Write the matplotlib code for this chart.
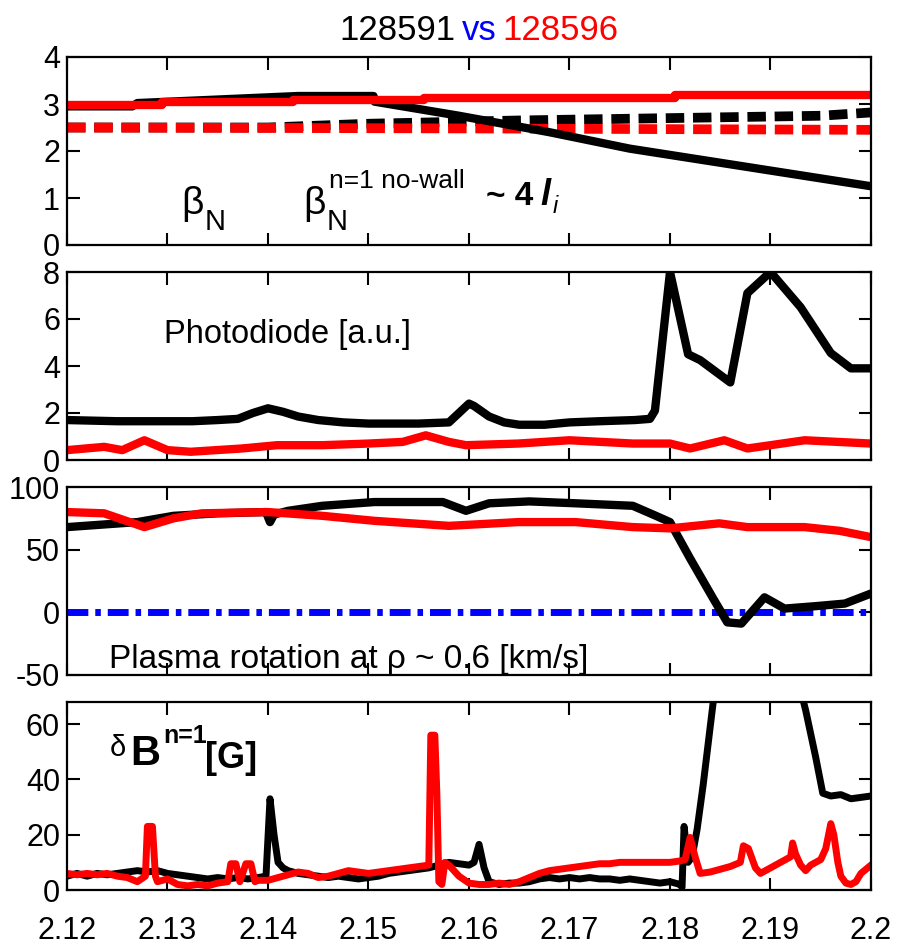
import matplotlib
matplotlib.use("Agg")
import matplotlib.pyplot as plt

# ---------------- data ----------------
# Panel 1: beta_N (solid) and n=1 no-wall limit ~4 li (dashed)
t_bn_591 = [2.12, 2.1265, 2.127, 2.143, 2.1505, 2.1506, 2.159, 2.168, 2.176, 2.188, 2.2]
bn_591 = [2.95, 2.95, 3.02, 3.17, 3.17, 3.05, 2.75, 2.40, 2.05, 1.65, 1.25]
t_bn_596 = [2.12, 2.1295, 2.1295, 2.1425, 2.1425, 2.1555, 2.1555, 2.1805, 2.1805, 2.2]
bn_596 = [2.98, 2.98, 3.04, 3.04, 3.08, 3.08, 3.13, 3.13, 3.2, 3.2]
t_li_591 = [2.12, 2.14, 2.15, 2.165, 2.18, 2.195, 2.2]
li_591 = [2.5, 2.5, 2.58, 2.65, 2.7, 2.75, 2.82]
t_li_596 = [2.12, 2.16, 2.2]
li_596 = [2.5, 2.48, 2.45]

# Panel 2: photodiode [a.u.]
t_pd_591 = [2.12, 2.125, 2.1325, 2.135, 2.137, 2.1385, 2.14, 2.1415, 2.143, 2.145,
            2.1475, 2.15, 2.155, 2.158, 2.1595, 2.16, 2.1605, 2.162, 2.1635, 2.165,
            2.1675, 2.17, 2.173, 2.1765, 2.178, 2.1785, 2.18, 2.1818, 2.183, 2.186,
            2.1877, 2.19, 2.193, 2.196, 2.198, 2.2]
pd_591 = [1.7, 1.65, 1.65, 1.7, 1.75, 2.0, 2.2, 2.05, 1.85, 1.7,
          1.6, 1.55, 1.55, 1.6, 2.2, 2.4, 2.3, 1.85, 1.6, 1.5,
          1.5, 1.6, 1.65, 1.7, 1.75, 2.1, 8.0, 4.5, 4.25, 3.3,
          7.1, 8.0, 6.5, 4.55, 3.9, 3.9]
t_pd_596 = [2.12, 2.1237, 2.1255, 2.1277, 2.13, 2.1323, 2.1374, 2.1409, 2.1454, 2.15,
            2.1534, 2.1557, 2.158, 2.1597, 2.1649, 2.17, 2.1763, 2.18, 2.182, 2.1854,
            2.1877, 2.19, 2.1934, 2.2]
pd_596 = [0.42, 0.56, 0.42, 0.84, 0.42, 0.35, 0.49, 0.63, 0.63, 0.7,
          0.77, 1.05, 0.77, 0.63, 0.7, 0.84, 0.7, 0.7, 0.49, 0.84,
          0.49, 0.63, 0.84, 0.7]

# Panel 3: plasma rotation at rho~0.6 [km/s]
t_rot_591 = [2.12, 2.127, 2.1306, 2.135, 2.1398, 2.1402, 2.1406, 2.142, 2.1454, 2.1506,
             2.1574, 2.1597, 2.162, 2.166, 2.1706, 2.1763, 2.1786, 2.18, 2.182, 2.1843,
             2.1857, 2.1871, 2.1894, 2.1914, 2.1946, 2.1974, 2.2]
rot_591 = [68, 72, 77, 79, 80, 72, 78, 81, 85, 88,
           88, 81, 87, 88.5, 87, 85, 77, 72, 43, 11,
           -8, -9, 12, 3, 5, 7, 15]
t_rot_596 = [2.12, 2.1237, 2.1277, 2.1306, 2.1334, 2.14, 2.1454, 2.1506, 2.158, 2.1649,
             2.1706, 2.1763, 2.18, 2.1849, 2.1877, 2.1934, 2.1969, 2.2]
rot_596 = [80, 79, 68, 75, 79, 80, 77, 73, 69, 72,
           72, 68, 67, 71, 68, 68, 65, 60]
t_zero = [2.12, 2.2]
rot_zero = [0, 0]

# Panel 4: delta B n=1 [G]
t_db_591 = [2.12, 2.121, 2.122, 2.123, 2.124, 2.125, 2.126, 2.127, 2.128, 2.129,
            2.130, 2.131, 2.132, 2.133, 2.134, 2.135, 2.136, 2.137, 2.138, 2.139,
            2.1398, 2.1402, 2.1406, 2.141, 2.1415, 2.142, 2.143, 2.144, 2.145, 2.146,
            2.147, 2.148, 2.149, 2.150, 2.151, 2.152, 2.153, 2.154, 2.155, 2.156,
            2.157, 2.158, 2.159, 2.160, 2.1605, 2.161, 2.1615, 2.162, 2.163, 2.164,
            2.165, 2.166, 2.167, 2.168, 2.169, 2.170, 2.171, 2.172, 2.173, 2.174,
            2.175, 2.176, 2.177, 2.178, 2.179, 2.180, 2.181, 2.1812, 2.1814, 2.1818,
            2.1822, 2.1827, 2.1833, 2.1837, 2.1843, 2.185, 2.19, 2.1928, 2.1935, 2.1945,
            2.1952, 2.196, 2.197, 2.198, 2.199, 2.2]
db_591 = [5, 6, 5, 6, 5.5, 6, 6.5, 7, 6.5, 7,
          6, 5.5, 5, 4.5, 4, 4.5, 4, 4.5, 4, 4.5,
          5, 33, 20, 10, 8, 7, 6, 5.5, 5, 4.5,
          5, 4.5, 4, 4.5, 5, 6, 6.5, 7, 7.5, 8,
          9, 10, 9.5, 9, 10, 16.5, 8, 3, 2, 2.5,
          2.5, 3, 4, 4.5, 4, 4.5, 4, 4.5, 4, 4,
          3.5, 4, 3.5, 3, 2.5, 3, 2, 1, 23, 10,
          12, 22, 38, 50, 68, 75, 80, 75, 65, 48,
          35, 34, 34.5, 33, 33.5, 34]
t_db_596 = [2.12, 2.121, 2.122, 2.123, 2.124, 2.125, 2.126, 2.127, 2.1278, 2.128,
            2.1285, 2.1288, 2.129, 2.13, 2.131, 2.132, 2.133, 2.134, 2.135, 2.136,
            2.1363, 2.1368, 2.1372, 2.1378, 2.1383, 2.1387, 2.139, 2.14, 2.141, 2.142,
            2.143, 2.144, 2.145, 2.146, 2.147, 2.148, 2.149, 2.15, 2.151, 2.152,
            2.153, 2.154, 2.155, 2.156, 2.1562, 2.1566, 2.1568, 2.157, 2.1573, 2.1576,
            2.158, 2.159, 2.16, 2.161, 2.162, 2.163, 2.164, 2.165, 2.166, 2.167,
            2.168, 2.169, 2.17, 2.171, 2.172, 2.173, 2.174, 2.175, 2.176, 2.177,
            2.178, 2.179, 2.18, 2.181, 2.1815, 2.182, 2.1825, 2.183, 2.184, 2.185,
            2.186, 2.187, 2.1873, 2.1878, 2.1885, 2.189, 2.19, 2.191, 2.192, 2.1922,
            2.1925, 2.193, 2.1935, 2.194, 2.195, 2.1955, 2.196, 2.1963, 2.1967, 2.197,
            2.1975, 2.198, 2.1985, 2.199, 2.2]
db_596 = [6, 5.5, 6, 5.5, 6, 5, 4.5, 3, 5, 23,
          23, 5, 3, 4, 2, 1.5, 2, 1.5, 2.5, 3,
          9.5, 9.5, 3, 9.5, 9.5, 3, 3.5, 3.5, 4.5, 5.5,
          6.5, 6, 4.5, 5, 6, 7, 6.5, 6, 6.5, 7,
          7.5, 8, 8.5, 9, 56, 56, 35, 3, 2, 10,
          9, 5, 2.5, 2, 2, 2.5, 2, 3, 4.5, 6,
          7, 7.5, 8, 8.5, 9, 9.5, 9.5, 10, 10, 10,
          10, 10, 10, 10.5, 11, 19, 12, 6, 6.5, 7.5,
          8.5, 10, 16, 15, 8, 6, 8, 10, 12, 17,
          13, 9, 7, 9, 11, 15, 24, 20, 10, 5,
          2.5, 2, 3, 6, 9]

x_ticks = [2.12, 2.13, 2.14, 2.15, 2.16, 2.17, 2.18, 2.19, 2.2]
x_ticklabels = ["2.12", "2.13", "2.14", "2.15", "2.16", "2.17", "2.18", "2.19", "2.2"]

# ---------------- style ----------------
plt.rcParams["font.family"] = ["Liberation Sans", "DejaVu Sans"]
plt.rcParams["axes.unicode_minus"] = False

BLACK = "#000000"
RED = "#ff0000"
BLUE = "#0000ff"

W, H = 906, 951
fig = plt.figure(figsize=(W / 100, H / 100), dpi=100)

left = 67 / W
width = (871 - 67) / W
ph = 188 / H
tops = [57, 272, 487, 702]
axes = []
for tp in tops:
    ax = fig.add_axes([left, 1 - (tp + 188) / H, width, ph])
    axes.append(ax)

TICKFS = 22
for ax in axes:
    ax.set_xlim(2.12, 2.2)
    ax.set_xticks(x_ticks)
    ax.tick_params(direction="in", length=9, width=1.5, top=True, right=True,
                   labelsize=TICKFS, pad=5)
    for s in ax.spines.values():
        s.set_linewidth(1.6)
    ax.set_xticklabels([])


def fx(px):
    return (px - 67) / 804


# Panel 1
ax = axes[0]
dash = (0, (1.9, 0.9))
ax.plot(t_li_591, li_591, color=BLACK, lw=7, linestyle=dash, dash_capstyle="butt")
ax.plot(t_li_596, li_596, color=RED, lw=7, linestyle=dash, dash_capstyle="butt")
ax.plot(t_bn_591, bn_591, color=BLACK, lw=6)
ax.plot(t_bn_596, bn_596, color=RED, lw=6)
ax.set_ylim(0, 4)
ax.set_yticks([0, 1, 2, 3, 4])


def fy1(py):
    return (245 - py) / 188


kw = dict(transform=ax.transAxes, va="baseline", ha="left")
ax.text(fx(181), fy1(214), "\u03b2", fontsize=28, **kw)
ax.text(fx(205), fy1(230), "N", fontsize=21, **kw)
ax.text(fx(303), fy1(214), "\u03b2", fontsize=28, **kw)
ax.text(fx(327), fy1(230), "N", fontsize=21, **kw)
ax.text(fx(329), fy1(188), "n=1 no-wall", fontsize=19, **kw)
ax.text(fx(486), fy1(205), "~ 4", fontsize=24, fontweight="bold", **kw)
ax.text(fx(540), fy1(205), "l", fontsize=26, fontweight="bold", fontstyle="italic", **kw)
ax.text(fx(553), fy1(213), "i", fontsize=17, fontstyle="italic", **kw)

# Panel 2
ax = axes[1]
ax.plot(t_pd_591, pd_591, color=BLACK, lw=6)
ax.plot(t_pd_596, pd_596, color=RED, lw=6)
ax.set_ylim(0, 8)
ax.set_yticks([0, 2, 4, 6, 8])
ax.text(fx(164), (460 - 343) / 188, "Photodiode [a.u.]", transform=ax.transAxes,
        fontsize=23.5, ha="left", va="baseline")

# Panel 3
ax = axes[2]
ax.plot(t_zero, rot_zero, color=BLUE, lw=5, linestyle=(0, (3.0, 1.0, 0.8, 1.0)),
        dash_capstyle="butt")
ax.plot(t_rot_591, rot_591, color=BLACK, lw=6)
ax.plot(t_rot_596, rot_596, color=RED, lw=6)
ax.set_ylim(-50, 100)
ax.set_yticks([-50, 0, 50, 100])
ax.text(fx(109), (675 - 668) / 188, "Plasma rotation at \u03c1 ~ 0.6 [km/s]",
        transform=ax.transAxes, fontsize=24, ha="left", va="baseline")

# Panel 4
ax = axes[3]
ax.plot(t_db_591, db_591, color=BLACK, lw=5)
ax.plot(t_db_596, db_596, color=RED, lw=5)
ax.set_ylim(0, 68)
ax.set_yticks([0, 20, 40, 60])
ax.set_xticklabels(x_ticklabels)
ax.tick_params(axis="x", pad=19)


def fy4(py):
    return (890 - py) / 188


kw4 = dict(transform=ax.transAxes, va="baseline", ha="left")
ax.text(fx(110), fy4(756), "\u03b4", fontsize=21, **kw4)
ax.text(fx(130), fy4(765), "B", fontsize=30, fontweight="bold", **kw4)
ax.text(fx(163), fy4(743), "n=1", fontsize=18, fontweight="bold", **kw4)
ax.text(fx(205), fy4(768), "[G]", fontsize=26, fontweight="bold", **kw4)

# Title
ty = 1 - 31 / H
fig.text(455 / W, ty, "128591", color=BLACK, fontsize=25, ha="right", va="center")
fig.text(479 / W, ty, "vs", color=BLUE, fontsize=25, ha="center", va="center")
fig.text(502 / W, ty, "128596", color=RED, fontsize=25, ha="left", va="center")

fig.savefig("out.png", dpi=100)
